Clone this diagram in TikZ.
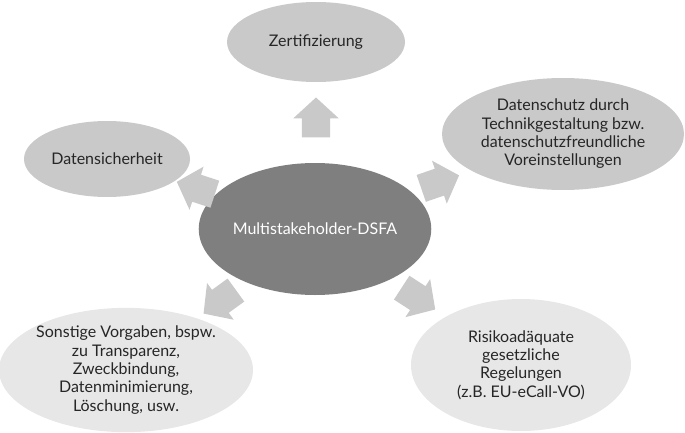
\documentclass[tikz,border=0pt]{standalone}
\usepackage{fontspec}
\setmainfont{Lato}
\usepackage{xcolor}
\usepackage{tikz}
\usetikzlibrary{shapes.geometric,shapes.arrows}
\definecolor{hubgray}{HTML}{7F7F7F}
\definecolor{midgray}{HTML}{C9C9C9}
\definecolor{lightgray}{HTML}{E7E7E7}
\definecolor{textgray}{HTML}{262626}
\tikzset{
bubble/.style={
ellipse,
inner sep=0pt,
align=center,
fill=midgray,
text=textgray,
font=\fontsize{16}{18.3}\selectfont
},
lightbubble/.style={
bubble,
fill=lightgray
},
hub/.style={
bubble,
fill=hubgray,
text=white
},
blockarrow/.style={
single arrow,
fill=midgray,
inner xsep=0pt,
inner ysep=14pt,
minimum height=40pt,
single arrow head extend=8.5pt,
single arrow tip angle=95
}
}

\begin{document}
\begin{tikzpicture}[x=1pt,y=-1pt]
\useasboundingbox (0,0) rectangle (685,433);
\node[hub,minimum width=212pt,minimum height=132pt](hub) at (315,229){Multistakeholder-DSFA};
\node[bubble,minimum width=178pt,minimum height=80pt](zert) at (316,42){Zertifizierung};
\node[bubble,minimum width=166pt,minimum height=76pt](sich) at (107,159){Datensicherheit};
\node[bubble,minimum width=242pt,minimum height=112pt](tech) at (563,134){Datenschutz durch\\Technikgestaltung bzw.\\datenschutzfreundliche\\Voreinstellungen};
\node[lightbubble,minimum width=248pt,minimum height=114pt](sonst) at (126,370){Sonstige Vorgaben, bspw.\\zu Transparenz,\\Zweckbindung,\\Datenminimierung,\\Löschung, usw.};
\node[lightbubble,minimum width=220pt,minimum height=132pt](risk) at (521,365){Risikoadäquate\\gesetzliche\\Regelungen\\(z.B. EU-eCall-VO)};

\foreach \n/\p/\a in {up/{(316,124)}/90,ur/{(434,184)}/19,lr/{(413,295)}/-33,ll/{(225,298)}/216,ul/{(202,190)}/162}
\node[blockarrow,rotate=\a](arr\n) at \p {};
\end{tikzpicture}
\end{document}
